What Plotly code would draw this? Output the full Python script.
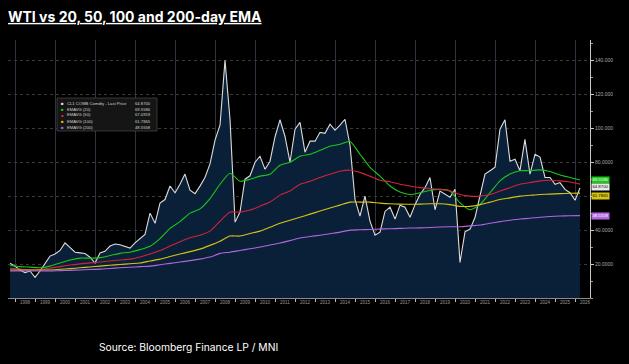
import pandas as pd
import plotly.graph_objects as go

# ---------------- data ----------------
price_start = "1997-10-01"   # quarterly samples
wti_price = [20.5, 18.8, 16.5, 15, 15.9, 12.2, 15.9, 20, 24.7, 25.9,
             28, 32.5, 30, 27, 26.6, 26.2, 24, 20.6, 26.5, 27.5,
             30.6, 31.8, 31.4, 30.5, 29.4, 32.5, 35, 37.5, 50, 44,
             55.9, 58, 66, 62, 67, 73, 63.5, 61.5, 65.9, 71,
             79, 93, 101.8, 140, 105, 44.7, 50.6, 70, 72, 80,
             83.5, 75.9, 80.6, 95, 105, 95.3, 80, 99.4, 103.5, 85.9,
             92.4, 92.4, 97.6, 97, 102.4, 98.8, 101.8, 105.3, 90, 58,
             48.2, 60, 45.3, 37, 38.8, 51, 53.5, 46.5, 54.7, 53.5,
             47.6, 55, 61, 65, 71, 52, 63, 61, 59.4, 64,
             21, 39, 40.6, 47.6, 59.4, 73, 75, 77, 99.4, 105,
             80.6, 81.8, 75, 93.5, 73, 84.7, 83, 71, 71, 67,
             68, 64, 62, 57.6, 64.87]

ema_start = "1997-10-01"     # half-yearly samples
ema20 = [19.3, 18.5, 18.2, 17.8, 18.8, 20.6, 22.4, 23.5, 23.5, 23.8,
         25, 26.3, 27, 28.5, 30.5, 35, 41, 45, 50, 52.5,
         58.5, 67, 73.5, 68.8, 70, 71.8, 72.9, 78.2, 80, 83.5,
         84.7, 87, 89.4, 90.6, 92.2, 84.7, 77, 71.8, 66, 62.5,
         61, 62, 63.5, 64, 63, 56, 52, 55, 62, 69,
         73, 75, 75, 75.5, 74.5, 72.5, 71, 69.5586]
ema50 = [17.5, 17, 16.6, 16.8, 17.6, 18.5, 19.4, 20.1, 20.7, 21.2,
         21.8, 22.4, 22.9, 24.2, 25.9, 28, 30.6, 33.2, 35.5, 37,
         39.4, 45.3, 50.6, 50.6, 51.8, 54.1, 56.5, 60.6, 63, 67,
         68.8, 71, 72.9, 74.7, 75.3, 74, 71.8, 69.4, 68.5, 67,
         66, 65, 64.5, 64, 63, 61, 60, 60, 61, 63,
         65, 67, 68, 69, 69.4, 69, 68.3, 67.0919]
ema100 = [16.5, 16.5, 16.5, 16.5, 16.5, 16.9, 17.3, 17.8, 18.3, 18.8,
          19.3, 19.7, 20.2, 20.6, 21.8, 22.9, 24.4, 25.9, 27.3, 28.8,
          31, 33.5, 36.5, 36.5, 38, 39.4, 41.7, 44, 45.8, 47.6,
          49.4, 51.2, 53, 54.7, 56.5, 56.5, 56.5, 55.9, 55.5, 55.3,
          55.2, 55.3, 55.5, 55.5, 55, 54, 54, 55, 56.5, 58,
          59, 60, 60.5, 61, 61.2, 61.5, 61.7, 61.7865]
ema200 = [15.9, 15.9, 15.9, 15.9, 15.9, 16.1, 16.3, 16.5, 16.8, 17,
          17.4, 17.8, 18.1, 18.5, 18.8, 19.6, 20.4, 21.2, 22, 22.9,
          24.1, 26.3, 27, 28, 29, 30, 31.2, 32.4, 33.8, 35.3,
          36.2, 37, 37.9, 38.8, 40, 40.2, 40.4, 40.6, 40.8, 41,
          41.2, 41.3, 41.5, 41.8, 42, 42, 42.5, 43, 44, 45,
          45.8, 46.5, 47, 47.6, 48, 48.3, 48.5, 48.5558]

series_names = ["CL1 COMB Comdty - Last Price", "EMAVG (20)", "EMAVG (50)",
                "EMAVG (100)", "EMAVG (200)"]
last_values = [64.87, 69.5586, 67.0919, 61.7865, 48.5558]
ytick_vals = [20, 40, 60, 80, 100, 120, 140]
# the 60 label is hidden behind the value tags in the reference
ytick_text = ["20.0000", "40.0000", "", "80.0000", "100.000", "120.000", "140.000"]
years = list(range(1997, 2027))

# ---------------- build ----------------
price_dates = pd.date_range(price_start, periods=len(wti_price), freq="QS")
ema_dates = pd.date_range(ema_start, periods=len(ema20), freq="6MS")

W, H = 629, 364
L, R, T, B = 8, 39, 40, 66
PW, PH = W - L - R, H - T - B

def px(xp):
    return (xp - L) / PW

def py(yp):
    return (H - B - yp) / PH

colors = ["#e8e8e8", "#19c819", "#d0243c", "#d6c414", "#b266e0"]

fig = go.Figure()
fig.add_trace(go.Scatter(x=price_dates, y=wti_price, mode="lines",
                         line=dict(color="#dcdcdc", width=1.1),
                         fill="tozeroy", fillcolor="#0a1f38", name=series_names[0]))
for vals, c, n in zip([ema20, ema50, ema100, ema200], colors[1:], series_names[1:]):
    fig.add_trace(go.Scatter(x=ema_dates, y=vals, mode="lines",
                             line=dict(color=c, width=1.1, shape="spline", smoothing=0.6),
                             name=n))

fig.update_layout(
    width=W, height=H,
    margin=dict(l=L, r=R, t=T, b=B),
    paper_bgcolor="black", plot_bgcolor="black",
    showlegend=False,
    title=dict(text="<b>WTI vs 20, 50, 100 and 200-day EMA</b>",
               font=dict(family="Inter", size=14, color="white", lineposition="under"),
               xref="container", x=8 / W, xanchor="left",
               yref="container", y=1 - 17 / H, yanchor="middle"),
)

fig.update_xaxes(
    type="date",
    range=["1997-08-25", "2026-10-01"],
    tickvals=[f"{y}-07-01" for y in years],
    ticktext=[str(y) for y in years],
    tickfont=dict(family="Liberation Sans", size=4.5, color="#9a9a9a"),
    ticks="", showgrid=False, zeroline=False,
    showline=True, linecolor="#8a8a8a", linewidth=1,
    minor=dict(tickvals=[f"{y}-01-01" for y in years], ticks="outside",
               ticklen=3, tickcolor="#bbbbbb", showgrid=False),
)
fig.update_layout(xaxis2=dict(
    overlaying="x", matches="x", type="date",
    tickvals=[f"{y}-01-01" for y in years if y % 2 == 0],
    showticklabels=False, ticks="", showgrid=True,
    gridcolor="#2e3440", gridwidth=1, showline=False, zeroline=False))
fig.add_trace(go.Scatter(x=[price_dates[0]], y=[None], xaxis="x2", showlegend=False,
                         hoverinfo="skip"))

fig.update_yaxes(
    side="right", range=[0, 152],
    tickvals=ytick_vals, ticktext=ytick_text,
    tickfont=dict(family="Liberation Sans", size=5, color="#a8a8a8"),
    ticks="outside", ticklen=3, tickcolor="#cccccc",
    showgrid=True, gridcolor="#3a3a3a", griddash="dot", gridwidth=1,
    zeroline=False, showline=True, linecolor="#c8c8c8", linewidth=1,
    minor=dict(dtick=10, tick0=0, ticks="outside", ticklen=2, tickcolor="#999999",
               showgrid=False),
)

# right-hand value labels (stacked a little apart so they don't collide)
label_order = [1, 0, 3, 4]
txt_colors = {0: "black", 1: "white", 3: "black", 4: "white"}
label_shift = {0: 0.8, 1: 0, 3: -2.6, 4: 0}
for i in label_order:
    fig.add_annotation(xref="paper", yref="y", x=1.0, y=last_values[i],
                       xanchor="left", yanchor="middle", xshift=1, yshift=label_shift[i],
                       text=f"{last_values[i]:.4f}", showarrow=False,
                       font=dict(family="Liberation Sans", size=4.3, color=txt_colors[i]),
                       bgcolor=colors[i], borderpad=0.4)

# legend box
fig.add_shape(type="rect", xref="paper", yref="paper",
              x0=px(57), x1=px(157), y0=py(131), y1=py(98),
              fillcolor="#151515", line=dict(color="#555555", width=0.6), layer="above")
row_y = [103, 109, 115, 121, 127]
for i, n in enumerate(series_names):
    fig.add_annotation(xref="paper", yref="paper", x=px(62), y=py(row_y[i]),
                       text="■", showarrow=False, xanchor="center", yanchor="middle",
                       font=dict(size=4.3, color=colors[i]), borderpad=0)
    fig.add_annotation(xref="paper", yref="paper", x=px(66), y=py(row_y[i]),
                       text=n, showarrow=False, xanchor="left", yanchor="middle",
                       font=dict(family="Liberation Sans", size=4.2, color="#d0d0d0"),
                       borderpad=0)
    fig.add_annotation(xref="paper", yref="paper", x=px(152), y=py(row_y[i]),
                       text=f"{last_values[i]:.4f}", showarrow=False,
                       xanchor="right", yanchor="middle",
                       font=dict(family="Liberation Sans", size=4.2, color="#d0d0d0"),
                       borderpad=0)

# source
fig.add_annotation(xref="paper", yref="paper", x=px(188), y=py(347),
                   text="Source: Bloomberg Finance LP / MNI", showarrow=False,
                   xanchor="center", yanchor="middle",
                   font=dict(family="Inter", size=10.3, color="white"))

fig.write_html("out.html", config={"displayModeBar": False},
               post_script="document.body.style.margin='0';document.body.style.background='black';")
